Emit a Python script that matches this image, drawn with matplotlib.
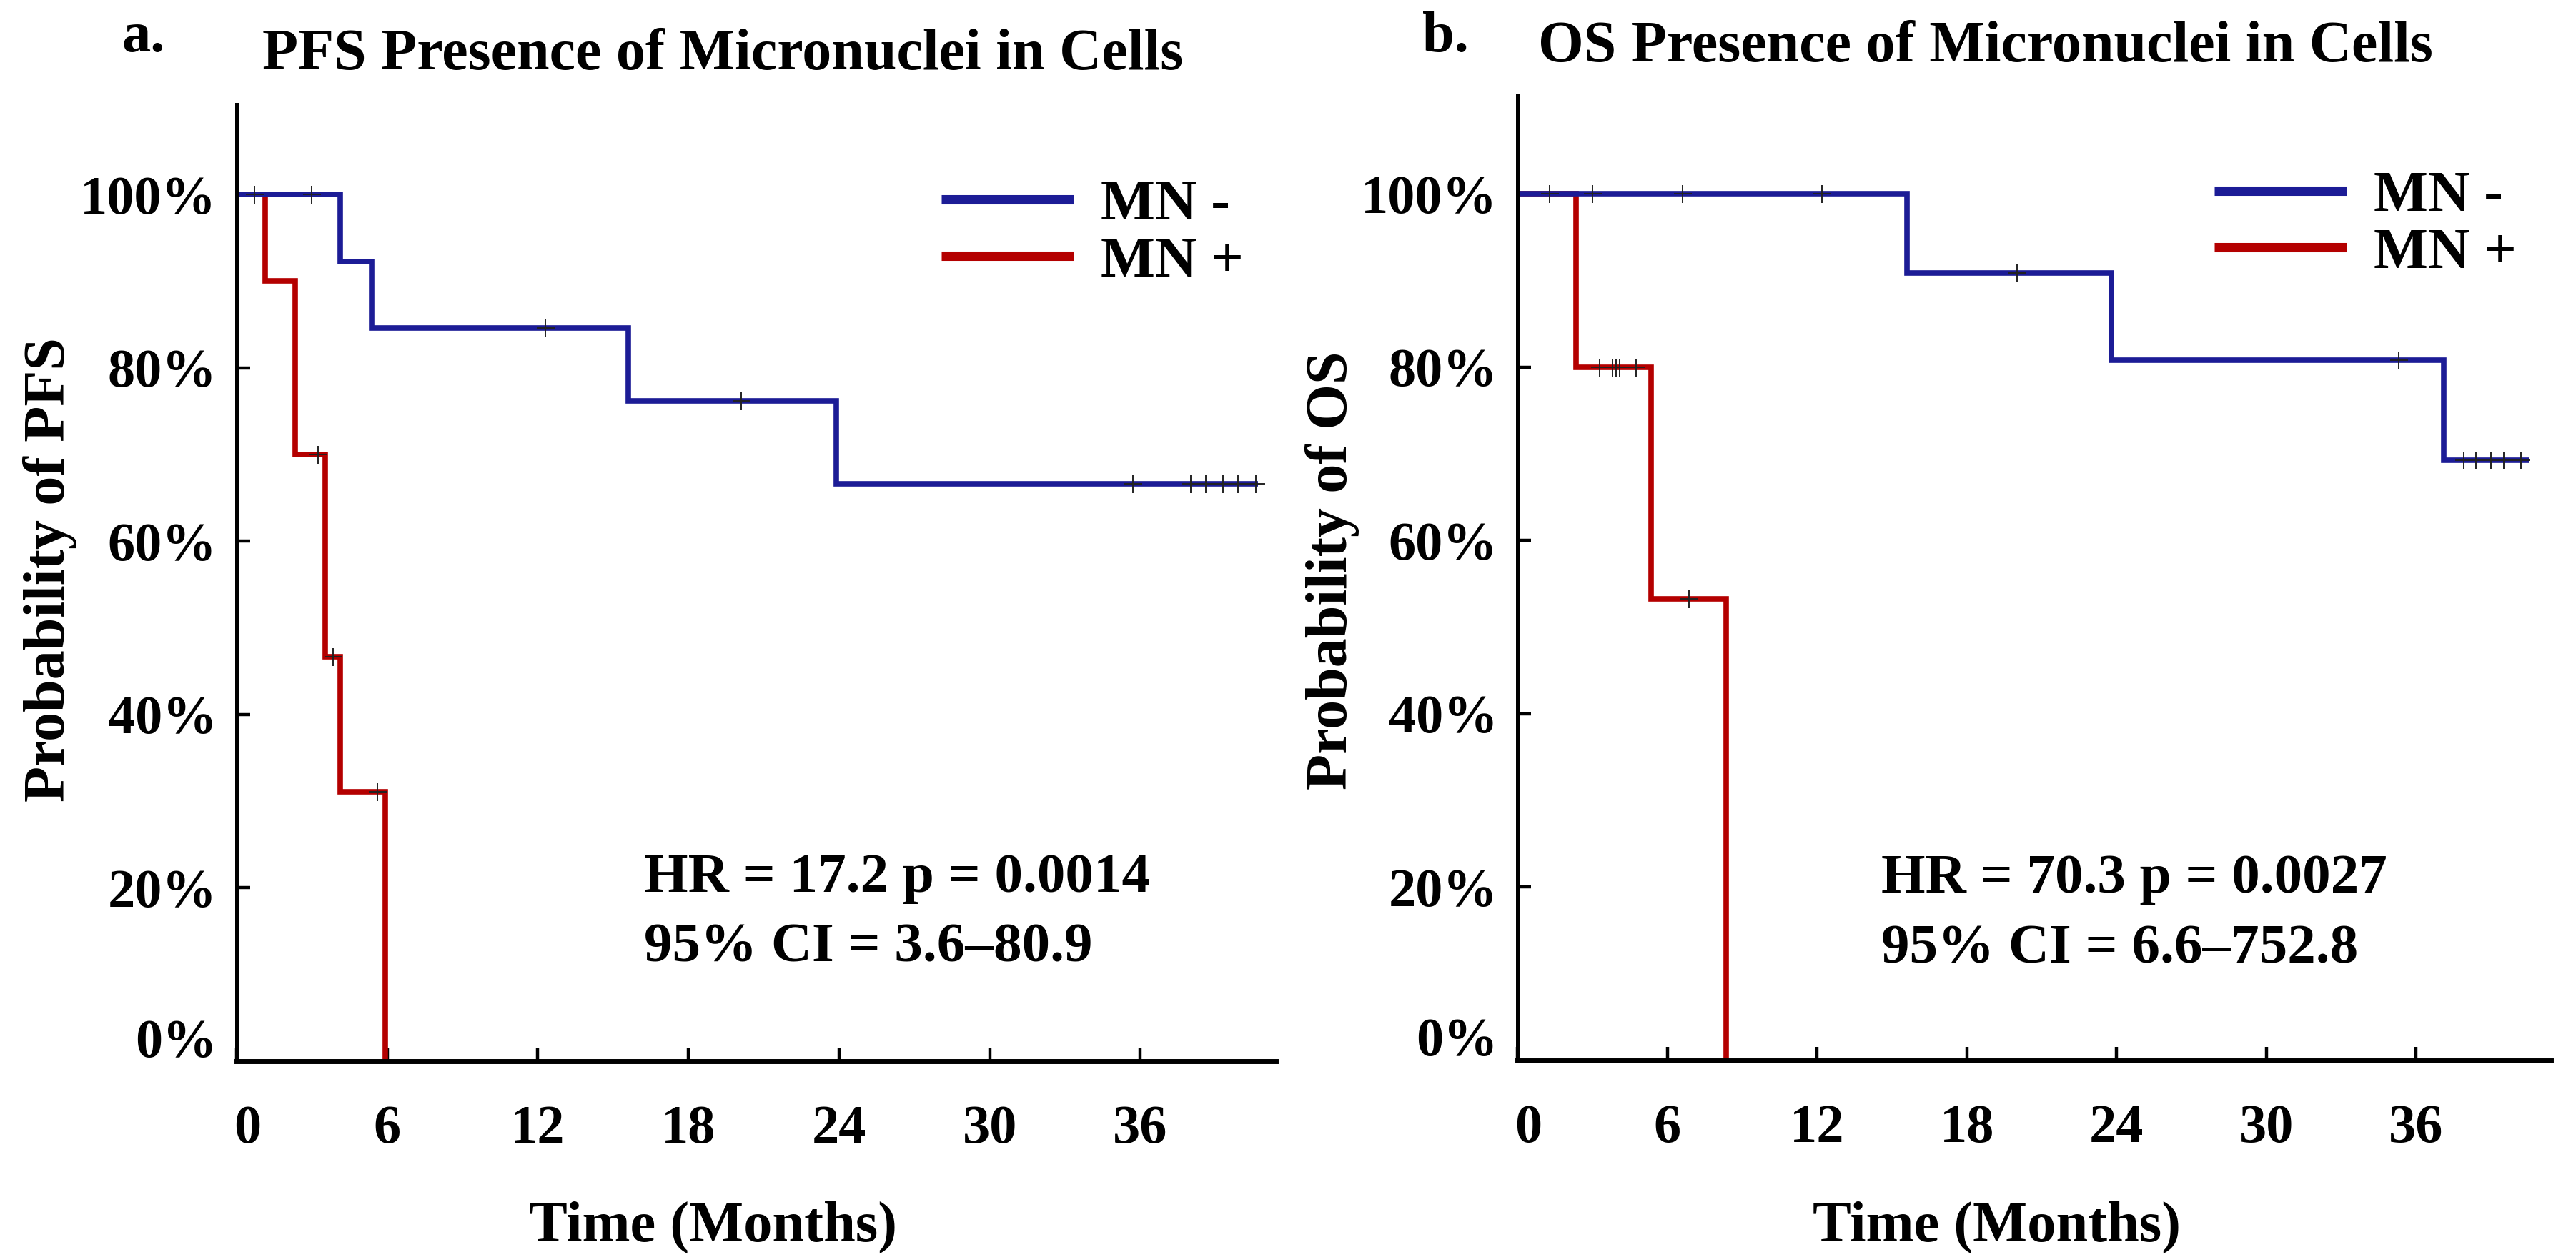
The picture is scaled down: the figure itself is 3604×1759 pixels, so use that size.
import numpy as np
import matplotlib
matplotlib.use("Agg")
import matplotlib.pyplot as plt
from matplotlib.lines import Line2D
from matplotlib.transforms import ScaledTranslation

# ---- data (months, % surviving) ----
pfs_neg_t = [0, 4.13, 5.38, 15.6, 23.9, 40.7]
pfs_neg_s = [100, 92.3, 84.6, 76.2, 66.6, 66.6]
pfs_neg_cens = [0.7, 3.0, 12.3, 20.1, 35.7, 38.0, 38.6, 39.3, 39.9, 40.6]

pfs_pos_t = [0, 1.13, 2.34, 3.53, 4.13, 5.93]
pfs_pos_s = [100, 90, 70, 46.7, 31.1, 0]
pfs_pos_cens = [3.24, 3.84, 5.62]

os_neg_t = [0, 15.6, 23.8, 37.1, 40.5]
os_neg_s = [100, 90.9, 80.8, 69.3, 69.3]
os_neg_cens = [1.3, 3.0, 6.6, 12.2, 20.0, 35.3, 37.9, 38.4, 39.0, 39.5, 40.2]

os_pos_t = [0, 2.34, 5.34, 8.36]
os_pos_s = [100, 80, 53.3, 0]
os_pos_cens = [3.3, 3.8, 3.95, 4.1, 4.75, 6.86]

x_ticks = [0, 6, 12, 18, 24, 30, 36]
y_ticks = [0, 20, 40, 60, 80, 100]
y_tick_labels = ["0%", "20%", "40%", "60%", "80%", "100%"]
group_labels = ["MN -", "MN +"]

titles = ["PFS Presence of Micronuclei in Cells", "OS Presence of Micronuclei in Cells"]
panel_tags = ["a.", "b."]
ylabels = ["Probability of PFS", "Probability of OS"]
stats = [["HR = 17.2 p = 0.0014", "95% CI = 3.6\u201380.9"],
         ["HR = 70.3 p = 0.0027", "95% CI = 6.6\u2013752.8"]]

BLUE = "#1c1c96"
RED = "#b40000"

plt.rcParams["font.family"] = "serif"
plt.rcParams["font.serif"] = ["Liberation Serif", "DejaVu Serif"]
plt.rcParams["font.weight"] = "bold"

W, H = 3605, 1759
fig = plt.figure(figsize=(W / 100, H / 100), dpi=100)


def fx(px):
    return px / W


def fy(py):
    return 1 - py / H


def step_value(t, ts, ss):
    idx = np.searchsorted(ts, t, side="right") - 1
    return np.asarray(ss)[idx]


def km_panel(ax, neg, pos, ytop):
    for (t, s, c), col in [(pos, RED), (neg, BLUE)]:
        ax.step(t, s, where="post", color=col, lw=5.5, clip_on=False,
                solid_joinstyle="miter", solid_capstyle="butt")
        ax.plot(c, step_value(c, t, s), ls="none", marker="+", ms=18,
                mew=1.4, color="#222222", zorder=4, clip_on=False)
    ax.set_xlim(0, 41.4)
    ax.set_ylim(0, ytop)
    ax.set_xticks(x_ticks)
    ax.set_yticks(y_ticks)
    ax.set_yticklabels(y_tick_labels)
    for sp in ["top", "right"]:
        ax.spines[sp].set_visible(False)
    ax.spines["left"].set_linewidth(3.6)
    ax.spines["bottom"].set_linewidth(5)
    ax.tick_params(axis="both", direction="in", length=14, width=3.2,
                   labelsize=55)
    ax.tick_params(axis="x", pad=44)
    ax.tick_params(axis="y", pad=20)
    # the "0%" and "0" labels sit a little off their ticks in the original
    ylab0 = ax.get_yticklabels()[0]
    ylab0.set_transform(ylab0.get_transform()
                        + ScaledTranslation(0, 0.33, fig.dpi_scale_trans))
    xlab0 = ax.get_xticklabels()[0]
    xlab0.set_transform(xlab0.get_transform()
                        + ScaledTranslation(0.15, 0, fig.dpi_scale_trans))
    handles = [Line2D([], [], color=BLUE, lw=9.4, solid_capstyle="butt"),
               Line2D([], [], color=RED, lw=9.4, solid_capstyle="butt")]
    return handles


# axes boxes in pixels: left, right, top, bottom
boxes = [(331, 1785, 146, 1485), (2123, 3569, 133, 1484)]
ytops = [110.4, 111.4]
curves = [((pfs_neg_t, pfs_neg_s, pfs_neg_cens), (pfs_pos_t, pfs_pos_s, pfs_pos_cens)),
          ((os_neg_t, os_neg_s, os_neg_cens), (os_pos_t, os_pos_s, os_pos_cens))]

title_pos = [(1011, 97), (2778, 86)]
tag_pos = [(170, 72), (1990, 72)]
ylabel_pos = [(90, 797), (1884, 798)]
xlabel_pos = [(998, 1737), (2794, 1737)]
stat_pos = [(901, 1248, 1345), (2632, 1249, 1347)]
legend_x = [0.678, 0.674]

for i in range(2):
    l, r, t, b = boxes[i]
    ax = fig.add_axes([fx(l), fy(b), (r - l) / W, (b - t) / H])
    neg, pos = curves[i]
    handles = km_panel(ax, neg, pos, ytops[i])
    ax.legend(handles, group_labels, loc="upper left",
              bbox_to_anchor=(legend_x[i], 0.922), frameon=False,
              borderpad=0, borderaxespad=0, handlelength=2.3,
              handletextpad=0.47, labelspacing=0.08,
              prop={"size": 58, "weight": "bold"})

    fig.text(fx(title_pos[i][0]), fy(title_pos[i][1]), titles[i],
             ha="center", va="baseline", fontsize=59, fontweight="bold")
    fig.text(fx(tag_pos[i][0]), fy(tag_pos[i][1]), panel_tags[i],
             ha="left", va="baseline", fontsize=58, fontweight="bold")
    fig.text(fx(ylabel_pos[i][0]), fy(ylabel_pos[i][1]), ylabels[i],
             rotation=90, rotation_mode="anchor", ha="center", va="baseline",
             fontsize=59, fontweight="bold")
    fig.text(fx(xlabel_pos[i][0]), fy(xlabel_pos[i][1]), "Time (Months)",
             ha="center", va="baseline", fontsize=58, fontweight="bold")
    sx, sy1, sy2 = stat_pos[i]
    fig.text(fx(sx), fy(sy1), stats[i][0], ha="left", va="baseline",
             fontsize=57, fontweight="bold")
    fig.text(fx(sx), fy(sy2), stats[i][1], ha="left", va="baseline",
             fontsize=57, fontweight="bold")

fig.savefig("out.png", dpi=100)
